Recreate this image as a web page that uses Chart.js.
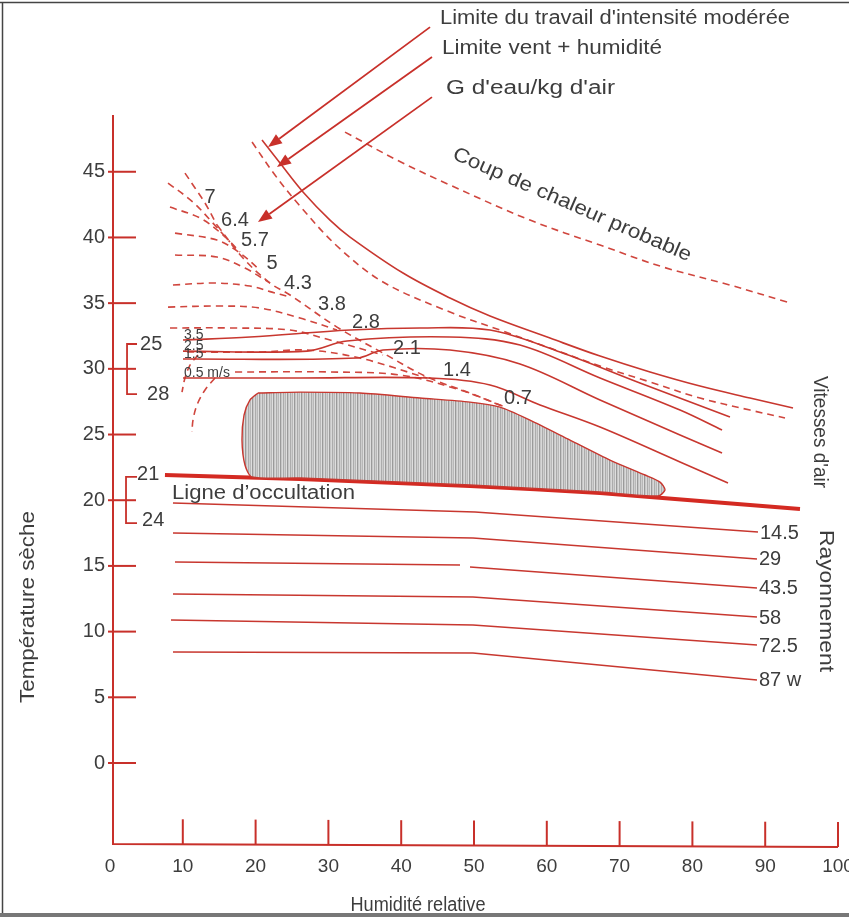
<!DOCTYPE html>
<html><head><meta charset="utf-8">
<script src="https://cdn.jsdelivr.net/npm/chart.js@4/dist/chart.umd.min.js"></script>
<style>html,body{margin:0;padding:0;background:#fff;overflow:hidden}</style>
</head><body><canvas id="c" width="849" height="917"></canvas>
<script>
// ---------- axes ----------
const xTicks = [0,10,20,30,40,50,60,70,80,90,100];
const yTicks = [0,5,10,15,20,25,30,35,40,45];
const X_MIN = 0, X_MAX = 100, Y_MIN = -6.09, Y_MAX = 49.32;

// ---------- limit curves (x = humidité %, y = °C) ----------
const limiteTravail = [[20.88,47.41],[23.35,45.66],[26.51,43.46],[30.22,41.32],[32.97,40.03],[40.25,37.29],[46.70,35.39],[52.20,34.02],[60.44,32.34],[67.31,30.97],[74.18,29.76],[81.04,28.69],[87.91,27.78],[93.82,27.02]];
const limiteVent = [[19.51,47.26],[22.66,44.75],[26.10,42.39],[31.18,39.35],[37.50,36.61],[46.70,34.32],[53.57,32.95],[60.44,31.58],[67.31,30.21],[74.18,29.00],[81.04,27.78],[87.91,26.86],[92.72,26.26]];
const coupChaleur = [[32.28,48.02],[39.42,45.89],[46.70,43.99],[57.69,41.32],[67.31,39.42],[75.96,37.75],[85.16,36.38],[93.00,35.08]];

// ---------- vitesses d'air ----------
const vitesseLabels = ['3.5','2.5','1.5','0.5 m/s'];
const v35 = [[10.03,32.19],[19.23,32.42],[32.97,32.95],[42.58,33.11],[52.20,32.95],[61.81,31.28],[72.80,28.92],[85.16,26.33]];
const v25 = [[10.03,31.35],[27.06,31.35],[32.55,32.12],[46.70,32.42],[56.32,31.81],[67.31,29.30],[78.30,26.86],[84.07,25.34]];
const v15 = [[10.03,30.75],[33.93,30.82],[37.50,31.43],[46.70,31.43],[56.32,30.37],[67.31,27.63],[78.30,24.96],[84.07,23.59]];
const v05 = [[10.03,29.30],[26.10,29.30],[43.96,29.30],[52.20,28.77],[59.07,27.25],[67.31,25.57],[78.30,22.91],[84.89,21.31]];

// ---------- g d'eau / kg d'air ----------
const gValues = ['7','6.4','5.7','5','4.3','3.8','2.8','2.1','1.4','0.7'];
const g7  = [[10.30,44.90],[11.68,43.76],[13.05,42.62],[14.70,40.94]];
const g64 = [[7.97,44.14],[11.40,42.69],[14.01,41.17],[16.48,39.65]];
const g57 = [[8.24,42.31],[12.36,41.48],[15.38,40.26],[17.86,38.89]];
const g5  = [[8.93,40.33],[14.70,39.80],[17.86,38.81],[20.60,37.52]];
const g43 = [[8.93,38.66],[14.70,38.51],[18.54,37.67],[21.98,36.53]];
const g38 = [[8.65,36.38],[14.42,36.53],[19.23,36.30],[22.25,35.84],[24.73,35.46]];
const g28 = [[7.97,34.70],[15.11,34.78],[20.60,34.63],[26.10,33.87],[31.18,32.95]];
const g21 = [[8.24,33.11],[16.48,33.11],[24.73,32.95],[30.22,32.19],[37.50,31.05]];
const g14 = [[10.58,31.28],[20.60,31.28],[27.06,31.43],[34.34,30.82],[43.54,29.30]];
const g07 = [[17.17,29.76],[30.22,29.76],[39.84,29.53],[48.08,28.39],[54.26,27.09]];
const gEnvelope = [[14.70,40.94],[18.27,38.43],[21.98,36.53],[24.73,35.62],[31.18,33.18],[37.50,31.20],[43.54,29.38],[49.45,28.16],[54.26,27.09]];
const gLabelAt = [[13.74,43.07],[17.17,41.32],[19.92,39.80],[22.25,38.05],[25.82,36.53],[30.49,34.86],[35.16,33.49],[40.80,31.58],[47.66,29.91],[56.04,27.78]];

// ---------- arcs (humides 25 / 28) ----------
const arc28 = [[12.09,31.05],[10.99,30.29],[10.30,29.30],[9.89,28.23]];
const arc25 = [[14.42,29.30],[13.05,28.39],[11.95,27.25],[11.40,26.10],[11.26,25.19]];

// ---------- zone hachurée ----------
const zone = [[20.33,28.16],[26.10,28.23],[34.34,28.16],[42.58,27.78],[49.45,27.47],[53.57,27.09],[57.69,26.10],[63.19,24.58],[68.68,23.06],[73.49,21.92],[75.55,21.38],[76.24,20.78],[75.27,20.32],[67.31,20.62],[49.45,21.16],[26.10,21.69],[19.51,21.77],[18.54,22.68],[18.13,24.58],[18.41,26.48],[19.23,27.63],[20.33,28.16]];

// ---------- ligne d'occultation ----------
const occultation = [[7.55,21.92],[26.10,21.61],[49.45,21.08],[67.31,20.55],[81.04,19.94],[94.78,19.33]];

// ---------- rayonnement ----------
const rayLabels = ['14.5','29','43.5','58','72.5','87 w'];
const r145 = [[8.65,19.79],[50.14,19.10],[89.01,17.58]];
const r29  = [[8.65,17.50],[49.86,17.12],[88.87,15.53]];
const r435a = [[8.93,15.30],[48.08,15.07]];
const r435b = [[49.45,14.92],[88.87,13.32]];
const r58  = [[8.65,12.86],[49.86,12.63],[88.87,11.11]];
const r725 = [[8.38,10.88],[49.86,10.50],[88.87,8.98]];
const r87  = [[8.65,8.45],[49.86,8.37],[88.87,6.32]];

// ---------- brackets ----------
const bracketHigh = [[3.71,31.89],[2.34,31.89],[2.34,28.08],[3.71,28.08]];
const bracketHighLabels = ['25','28'];
const bracketLow = [[3.71,21.77],[2.20,21.77],[2.20,18.26],[3.71,18.26]];
const bracketLowLabels = ['21','24'];

// ---------- arrows ----------
const arrowFrom = [[43.96,56.01],[44.23,53.73],[44.23,50.68]];
const arrowTo   = [[21.70,46.88],[22.94,45.36],[20.33,41.17]];
const arrowTexts = ["Limite du travail d'intensité modérée","Limite vent + humidité","G d'eau/kg d'air"];

// ================= styling =================
const RED = '#c8372f', RED_D = '#d0463e', AXIS = '#c8302a', OCC = '#d42a22', TXT = '#3d3d3d';
const FONT = '"Liberation Sans", Arial, sans-serif';

function pts(a){ return a.map(p => ({x:p[0], y:p[1]})); }
function ds(a, o){ return Object.assign({data:pts(a), showLine:true, pointRadius:0, borderColor:RED, borderWidth:1.6, tension:0.35, fill:false}, o||{}); }
const DASH = {borderDash:[7,5], borderColor:RED_D, borderWidth:1.6};

// hatch pattern
const pc = document.createElement('canvas'); pc.width = 7; pc.height = 1;
const pctx = pc.getContext('2d');
['#9a9a9a','#c6c6c6','#d8d8d8','#acacac','#cecece','#b8b8b8','#dedede'].forEach((c,i)=>{pctx.fillStyle=c; pctx.fillRect(i,0,1,1);});
const hatch = pctx.createPattern(pc,'repeat');

const RW = {tension:0, borderWidth:1.5};
const datasets = [
  ds(zone, {fill:'shape', backgroundColor:hatch, borderWidth:1.4, tension:0.25}),
  ds(r145,RW), ds(r29,RW), ds(r435a,RW), ds(r435b,RW), ds(r58,RW), ds(r725,RW), ds(r87,RW),
  ds(occultation, {borderColor:OCC, borderWidth:4, tension:0.2}),
  ds(v35), ds(v25), ds(v15), ds(v05),
  ds(limiteTravail), ds(limiteVent, DASH), ds(coupChaleur, DASH),
  ds(g7,DASH), ds(g64,DASH), ds(g57,DASH), ds(g5,DASH), ds(g43,DASH), ds(g38,DASH), ds(g28,DASH), ds(g21,DASH), ds(g14,DASH), ds(g07,DASH),
  ds(gEnvelope, DASH),
  ds(arc28, DASH), ds(arc25, DASH),
  ds(bracketHigh, {tension:0, borderWidth:1.8, borderColor:AXIS}), ds(bracketLow, {tension:0, borderWidth:1.8, borderColor:AXIS})
];

function txt(ctx, s, x, y, o){
  o = o || {};
  ctx.save(); ctx.translate(x,y); if (o.rot) ctx.rotate(o.rot*Math.PI/180);
  ctx.font = (o.size||20)+'px '+FONT; ctx.fillStyle = TXT;
  ctx.textAlign = o.align||'left'; ctx.textBaseline = 'middle';
  if (o.w) { const m = ctx.measureText(s).width; ctx.scale(o.w/m, 1); }
  ctx.fillText(s,0,0); ctx.restore();
}

const deco = {
  id:'deco',
  beforeDatasetsDraw(chart){
    const ctx = chart.ctx, xs = chart.scales.x, ys = chart.scales.y;
    const X = v => xs.getPixelForValue(v), Y = v => ys.getPixelForValue(v);
    const ax = X(0) + 3, yb = Y(Y_MIN) + 1, yt = Y(Y_MAX);
    ctx.save();
    ctx.strokeStyle = AXIS; ctx.lineWidth = 2; ctx.lineCap = 'butt';
    ctx.beginPath(); ctx.moveTo(ax, yt); ctx.lineTo(ax, yb); ctx.lineTo(X(X_MAX), yb + 3); ctx.stroke();
    yTicks.forEach(v => { ctx.beginPath(); ctx.moveTo(ax-5, Y(v)); ctx.lineTo(ax+23, Y(v)); ctx.stroke(); });
    xTicks.forEach(v => { if (v===0) return; const yy = yb + 3*(X(v)-ax)/(X(X_MAX)-ax); ctx.beginPath(); ctx.moveTo(X(v), yy); ctx.lineTo(X(v), yy-25); ctx.stroke(); });
    ctx.strokeStyle = '#444'; ctx.lineWidth = 1.5;
    ctx.beginPath(); ctx.moveTo(0,2.5); ctx.lineTo(849,2.5); ctx.moveTo(2.5,2); ctx.lineTo(2.5,915); ctx.stroke();
    ctx.strokeStyle = '#777'; ctx.lineWidth = 4;
    ctx.beginPath(); ctx.moveTo(0,915); ctx.lineTo(849,915); ctx.stroke();
    ctx.restore();
  },
  afterDatasetsDraw(chart){
    const ctx = chart.ctx, xs = chart.scales.x, ys = chart.scales.y;
    const X = v => xs.getPixelForValue(v), Y = v => ys.getPixelForValue(v);
    const arrowTextW = [350, 220, 169];
    ctx.save(); ctx.strokeStyle = AXIS; ctx.fillStyle = AXIS; ctx.lineWidth = 1.8;
    arrowFrom.forEach((f,i) => {
      const x1 = X(f[0]), y1 = Y(f[1]), x2 = X(arrowTo[i][0]), y2 = Y(arrowTo[i][1]);
      const a = Math.atan2(y2-y1, x2-x1), L = 14, W = 5.5;
      const bx = x2 - L*Math.cos(a), by = y2 - L*Math.sin(a);
      ctx.beginPath(); ctx.moveTo(x1,y1); ctx.lineTo(bx,by); ctx.stroke();
      ctx.beginPath(); ctx.moveTo(x2,y2);
      ctx.lineTo(bx + W*Math.sin(a), by - W*Math.cos(a));
      ctx.lineTo(bx - W*Math.sin(a), by + W*Math.cos(a)); ctx.closePath(); ctx.fill();
      txt(ctx, arrowTexts[i], x1 + 10 + (i===2?4:0), y1 - 9, {size:20, w:arrowTextW[i]});
    });
    ctx.restore();
    gValues.forEach((g,i) => txt(ctx, g, X(gLabelAt[i][0]), Y(gLabelAt[i][1]), {size:20, align:'center'}));
    [v35,v25,v15,v05].forEach((l,i) => txt(ctx, vitesseLabels[i], X(l[0][0])+1, Y(l[0][1])-5, {size:14}));
    [r145,r29,r435b,r58,r725,r87].forEach((l,i) => { const e = l[l.length-1]; txt(ctx, rayLabels[i], X(e[0])+2, Y(e[1])+1, {size:20}); });
    txt(ctx, bracketHighLabels[0], X(bracketHigh[0][0])+3, Y(bracketHigh[0][1]), {size:20});
    txt(ctx, bracketHighLabels[1], X(bracketHigh[3][0])+10, Y(bracketHigh[3][1]), {size:20});
    txt(ctx, bracketLowLabels[0], X(bracketLow[0][0])+0, Y(bracketLow[0][1])-2, {size:20});
    txt(ctx, bracketLowLabels[1], X(bracketLow[3][0])+5, Y(bracketLow[3][1])-3, {size:20});
    txt(ctx, 'Ligne d\u2019occultation', X(occultation[0][0])+7, Y(occultation[0][1])+18, {size:20, w:183});
    txt(ctx, 'Coup de chaleur probable', X(63.46), Y(42.47), {size:20, align:'center', rot:23.5, w:258});
    txt(ctx, "Vitesses d'air", 820, 432, {size:20, align:'center', rot:90, w:112});
    txt(ctx, 'Rayonnement', 826, 601, {size:21, align:'center', rot:90, w:142});
    txt(ctx, 'Humidité relative', 418, 905, {size:20, align:'center', w:135});
    txt(ctx, 'Température sèche', 28, 607, {size:20, align:'center', rot:-90, w:192});
  }
};

new Chart(document.getElementById('c'), {
  type:'scatter',
  data:{datasets},
  options:{
    responsive:false, animation:false, events:[],
    layout:{padding:{top:115, right:11, left:0, bottom:0}},
    plugins:{legend:{display:false}, tooltip:{enabled:false}},
    scales:{
      x:{type:'linear', min:X_MIN, max:X_MAX,
         grid:{display:false, drawTicks:false}, border:{display:false},
         ticks:{font:{family:FONT, size:19}, color:TXT, padding:12, autoSkip:false, maxRotation:0},
         afterBuildTicks: s => { s.ticks = xTicks.map(v => ({value:v})); },
         afterFit: s => { s.height = 74; s.paddingLeft = 0; s.paddingRight = 0; }},
      y:{type:'linear', min:Y_MIN, max:Y_MAX,
         grid:{display:false, drawTicks:false}, border:{display:false},
         ticks:{font:{family:FONT, size:20}, color:TXT, padding:5, autoSkip:false},
         afterBuildTicks: s => { s.ticks = yTicks.map(v => ({value:v})); },
         afterFit: s => { s.width = 110; s.paddingTop = 0; s.paddingBottom = 0; }}
    }
  },
  plugins:[deco]
});
</script></body></html>
